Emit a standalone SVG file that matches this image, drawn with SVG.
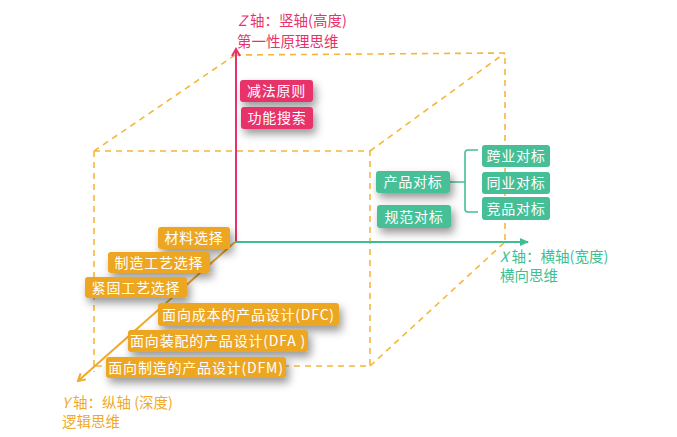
<svg xmlns="http://www.w3.org/2000/svg" width="677" height="437" viewBox="0 0 677 437">
<defs>
<filter id="sh" x="-30%" y="-60%" width="160%" height="260%">
<feDropShadow dx="3" dy="5" stdDeviation="4" flood-color="#000" flood-opacity="0.4"/>
</filter>
<marker id="ap" viewBox="0 0 10 10" refX="8" refY="5" markerWidth="5" markerHeight="5" orient="auto"><path d="M1,1 L8,5 L1,9" fill="none" stroke="#e8336a" stroke-width="2"/></marker>
<marker id="ag" viewBox="0 0 10 10" refX="8" refY="5" markerWidth="5" markerHeight="5" orient="auto"><path d="M0,1 L9,5 L0,9 Z" fill="#3dbf94"/></marker>
<marker id="ao" viewBox="0 0 10 10" refX="8" refY="5" markerWidth="5" markerHeight="5" orient="auto"><path d="M1,1 L8,5 L1,9" fill="none" stroke="#f0a92a" stroke-width="2"/></marker>
</defs>
<style>
.cube{fill:none;stroke:#f5b73b;stroke-width:1.6;stroke-dasharray:6 5}
.bx{font-family:"Noto Sans CJK SC","Noto Sans",sans-serif;font-size:14px;fill:#fff;letter-spacing:0.8px}
.pk{fill:#e8336a}
.gr{fill:#46bf97}
.or{fill:#eda624}
.lbl{font-family:"Noto Sans CJK SC","Noto Sans",sans-serif;font-size:14.5px}
</style>
<rect width="677" height="437" fill="#fff"/>
<g id="connectors">
<path class="cube" d="M235,55 L505,53 L505,242 M94,151 L370,151 L370,366 L94,366 M94,151 L94,372 M94,151 L235,55 M370,151 L505,53 M370,366 L505,242"/>
<line x1="236" y1="242" x2="236" y2="49" stroke="#e8336a" stroke-width="2" marker-end="url(#ap)"/>
<line x1="235" y1="242" x2="528" y2="242" stroke="#3dbf94" stroke-width="2" marker-end="url(#ag)"/>
<line x1="235" y1="242" x2="78" y2="381" stroke="#f0a92a" stroke-width="2" marker-end="url(#ao)"/>
<path d="M450,182 L465,182 M478,150 L468,150 Q465,150 465,153 L465,209 Q465,212 468,212 L478,212" fill="none" stroke="#46bf97" stroke-width="1.6"/>
</g>
<g id="z-label" class="lbl" fill="#e8336a"><text x="238" y="26"><tspan font-style="italic">Z</tspan> 轴：竖轴(高度)</text><text x="237" y="47">第一性原理思维</text></g>
<g id="x-label" class="lbl" fill="#3dbf94"><text x="500" y="262"><tspan font-style="italic">X</tspan> 轴：横轴(宽度)</text><text x="500" y="281">横向思维</text></g>
<g id="y-label" class="lbl" fill="#f0a92a"><text x="62" y="408"><tspan font-style="italic">Y</tspan> 轴：纵轴 (深度)</text><text x="62" y="427">逻辑思维</text></g>
<g id="n1"><rect class="pk" x="240" y="80" width="73" height="22" rx="3" filter="url(#sh)"/><text class="bx" x="276.5" y="96" text-anchor="middle">减法原则</text></g>
<g id="n2"><rect class="pk" x="241" y="107" width="72" height="22" rx="3" filter="url(#sh)"/><text class="bx" x="277" y="123" text-anchor="middle">功能搜索</text></g>
<g id="n3"><rect class="gr" x="376" y="171" width="74" height="22" rx="3" filter="url(#sh)"/><text class="bx" x="413" y="187" text-anchor="middle">产品对标</text></g>
<g id="n4"><rect class="gr" x="377" y="205" width="74" height="23" rx="3" filter="url(#sh)"/><text class="bx" x="414" y="221.5" text-anchor="middle">规范对标</text></g>
<g id="n5"><rect class="gr" x="482" y="145" width="68" height="22" rx="3"/><text class="bx" x="516" y="161" text-anchor="middle">跨业对标</text></g>
<g id="n6"><rect class="gr" x="482" y="172" width="68" height="22" rx="3"/><text class="bx" x="516" y="188" text-anchor="middle">同业对标</text></g>
<g id="n7"><rect class="gr" x="482" y="197" width="68" height="23" rx="3"/><text class="bx" x="516" y="213.5" text-anchor="middle">竞品对标</text></g>
<g id="n8"><rect class="or" x="158" y="227" width="72" height="22" rx="3" filter="url(#sh)"/><text class="bx" x="194" y="243" text-anchor="middle">材料选择</text></g>
<g id="n9"><rect class="or" x="108" y="252" width="102" height="21" rx="3" filter="url(#sh)"/><text class="bx" x="159" y="267.5" text-anchor="middle">制造工艺选择</text></g>
<g id="n10"><rect class="or" x="85" y="277" width="102" height="21" rx="3" filter="url(#sh)"/><text class="bx" x="136" y="292.5" text-anchor="middle">紧固工艺选择</text></g>
<g id="n11"><rect class="or" x="158" y="303" width="181" height="23" rx="3" filter="url(#sh)"/><text class="bx" x="248.5" y="319.5" text-anchor="middle" letter-spacing="0.3">面向成本的产品设计(DFC)</text></g>
<g id="n12"><rect class="or" x="128" y="330" width="180" height="22" rx="3" filter="url(#sh)"/><text class="bx" x="218" y="346" text-anchor="middle" letter-spacing="0.3">面向装配的产品设计(DFA )</text></g>
<g id="n13"><rect class="or" x="106" y="357" width="180" height="21" rx="3" filter="url(#sh)"/><text class="bx" x="196" y="372.5" text-anchor="middle" letter-spacing="0.3">面向制造的产品设计(DFM)</text></g>
</svg>
